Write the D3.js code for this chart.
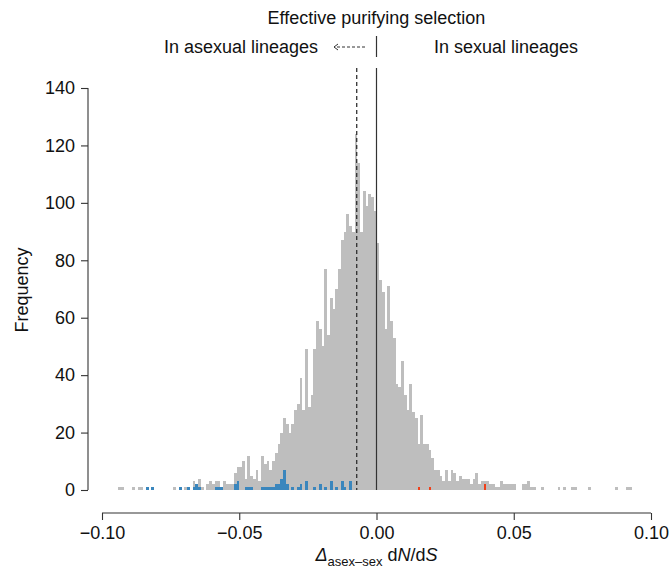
<!DOCTYPE html>
<html>
<head>
<meta charset="utf-8">
<script src="https://cdn.jsdelivr.net/npm/d3@7"></script>
<style>
    body { margin: 0; background: #fff; }
    svg { display: block; font-family: "Liberation Sans", Arial, sans-serif; }
</style>
</head>
<body>
<div id="chart"></div>
<script>
// histogram: bins of width 0.001 starting at -0.100
const binStart = -0.1;
const binWidth = 0.001;

// all genes (grey), 10 bins per row
const allCounts = [
    0, 0, 0, 0, 0, 0, 1, 1, 0, 0,          // -0.100
    0, 1, 0, 1, 1, 0, 1, 0, 1, 0,          // -0.090
    0, 0, 0, 0, 0, 0, 1, 0, 1, 0,          // -0.080
    1, 1, 0, 3, 2, 4, 1, 0, 2, 3,          // -0.070
    2, 3, 3, 1, 3, 2, 2, 2, 6, 8,          // -0.060
    8, 10, 4, 12, 5, 4, 7, 3, 12, 9,       // -0.050
    10, 7, 10, 13, 16, 20, 25, 23, 20, 23, // -0.040
    28, 30, 39, 28, 49, 29, 33, 49, 59, 56, // -0.030
    50, 77, 54, 67, 63, 70, 77, 87, 90, 96, // -0.020
    92, 90, 124, 114, 90, 104, 99, 103, 102, 97, // -0.010
    86, 73, 69, 56, 71, 59, 53, 37, 36, 45, // 0.000
    33, 28, 37, 27, 25, 16, 26, 16, 16, 14, // 0.010
    11, 7, 7, 5, 3, 7, 3, 7, 6, 3,         // 0.020
    5, 4, 4, 4, 2, 4, 6, 2, 3, 3,          // 0.030
    3, 2, 2, 1, 1, 3, 2, 2, 2, 2,          // 0.040
    2, 0, 0, 2, 2, 3, 1, 1, 0, 0,          // 0.050
    1, 0, 0, 0, 0, 0, 1, 0, 1, 0,          // 0.060
    0, 1, 1, 0, 0, 0, 0, 1, 0, 0,          // 0.070
    0, 0, 0, 0, 0, 0, 0, 1, 0, 0,          // 0.080
    0, 1, 1, 0, 0, 0, 0, 0, 0, 0           // 0.090
];

// highlighted genes, given by bin left edge
const blueBins = [-0.084, -0.082, -0.072, -0.069, -0.067, -0.066, -0.065, -0.059, -0.058, -0.057,
    -0.052, -0.051, -0.048, -0.047, -0.046, -0.042, -0.041, -0.040, -0.039, -0.038,
    -0.037, -0.036, -0.035, -0.034, -0.033, -0.031, -0.029, -0.028, -0.026, -0.023,
    -0.021, -0.019, -0.017, -0.015, -0.013, -0.012, -0.010];
const blueCounts = [1, 1, 1, 1, 1, 2, 1, 1, 1, 1,
    2, 3, 1, 1, 1, 1, 1, 1, 1, 1,
    2, 2, 4, 7, 2, 1, 1, 2, 3, 1,
    2, 1, 3, 1, 3, 1, 3];

const redBins = [0.015, 0.019, 0.039];
const redCounts = [1, 1, 2];

const xTicks = [-0.10, -0.05, 0.00, 0.05, 0.10];
const yTicks = [0, 20, 40, 60, 80, 100, 120, 140];

const meanShift = -0.0072;   // dashed line
const lineTop = 147;         // top of the reference lines, in counts

const width = 672, height = 570;
const svg = d3.select('#chart').append('svg')
    .attr('width', width)
    .attr('height', height);

const x = d3.scaleLinear().domain([-0.1, 0.1]).range([102, 651]);
const y = d3.scaleLinear().domain([0, 140]).range([490, 88]);

function toBins(lefts, counts) {
    return lefts.map((l, i) => ({ x0: l, x1: l + binWidth, n: counts[i] })).filter(d => d.n > 0);
}

const grey = toBins(allCounts.map((c, i) => binStart + i * binWidth), allCounts);
const blue = toBins(blueBins, blueCounts);
const red = toBins(redBins, redCounts);

function drawBars(data, color) {
    svg.append('g')
        .attr('shape-rendering', 'crispEdges')
        .selectAll('rect')
        .data(data)
        .enter()
        .append('rect')
        .attr('x', d => x(d.x0))
        .attr('width', d => x(d.x1) - x(d.x0))
        .attr('y', d => y(d.n))
        .attr('height', d => y(0) - y(d.n))
        .attr('fill', color);
}

drawBars(grey, '#bebebe');
drawBars(blue, '#3a86bd');
drawBars(red, '#f0401a');

// reference lines
svg.append('line')
    .attr('x1', x(meanShift)).attr('x2', x(meanShift))
    .attr('y1', y(lineTop)).attr('y2', y(0))
    .attr('stroke', '#222').attr('stroke-width', 1.2)
    .attr('stroke-dasharray', '4,3');

svg.append('line')
    .attr('x1', x(0)).attr('x2', x(0))
    .attr('y1', y(lineTop)).attr('y2', y(0))
    .attr('stroke', '#333').attr('stroke-width', 1.2);

// axes
const xAxis = svg.append('g')
    .attr('transform', 'translate(0,513)')
    .call(d3.axisBottom(x).tickValues(xTicks).tickSize(7).tickPadding(6)
        .tickFormat(d => d3.format('.2f')(d).replace('-', '\u2212')));

const yAxis = svg.append('g')
    .attr('transform', 'translate(88,0)')
    .call(d3.axisLeft(y).tickValues(yTicks).tickSize(7).tickPadding(6));

[xAxis, yAxis].forEach(ax => {
    ax.select('.domain').attr('stroke', '#333').attr('stroke-width', 1.1);
    ax.selectAll('.tick line').attr('stroke', '#333').attr('stroke-width', 1.1);
    ax.selectAll('.tick text')
        .attr('fill', '#111')
        .style('font-size', '18px')
        .style('font-family', '"Liberation Sans", Arial, sans-serif');
});
// R draws the axis line only between the outer ticks
xAxis.select('.domain').attr('d', `M${x(-0.1)},0H${x(0.1)}`);
yAxis.select('.domain').attr('d', `M0,${y(0)}V${y(140)}`);

// axis titles
svg.append('text')
    .attr('transform', 'translate(28,290) rotate(-90)')
    .attr('text-anchor', 'middle')
    .style('font-size', '18px')
    .attr('fill', '#111')
    .text('Frequency');

const xl = svg.append('text')
    .attr('x', x(0))
    .attr('y', 561)
    .attr('text-anchor', 'middle')
    .style('font-size', '18px')
    .attr('fill', '#111');
xl.append('tspan').style('font-style', 'italic').text('\u0394');
xl.append('tspan').attr('dy', 5).style('font-size', '13px').text('asex\u2013sex');
xl.append('tspan').attr('dy', -5).text(' d');
xl.append('tspan').style('font-style', 'italic').text('N');
xl.append('tspan').text('/d');
xl.append('tspan').style('font-style', 'italic').text('S');

// header annotation
svg.append('text')
    .attr('x', x(0))
    .attr('y', 24)
    .attr('text-anchor', 'middle')
    .style('font-size', '18px')
    .attr('fill', '#111')
    .text('Effective purifying selection');

svg.append('text')
    .attr('x', 318)
    .attr('y', 53)
    .attr('text-anchor', 'end')
    .style('font-size', '18px')
    .attr('fill', '#111')
    .text('In asexual lineages');

svg.append('text')
    .attr('x', 434)
    .attr('y', 53)
    .style('font-size', '18px')
    .attr('fill', '#111')
    .text('In sexual lineages');

svg.append('line')
    .attr('x1', x(0)).attr('x2', x(0))
    .attr('y1', 36).attr('y2', 57)
    .attr('stroke', '#333').attr('stroke-width', 1.2);

svg.append('line')
    .attr('x1', 365).attr('x2', 334)
    .attr('y1', 47).attr('y2', 47)
    .attr('stroke', '#333').attr('stroke-width', 1)
    .attr('stroke-dasharray', '3,2');
svg.append('path')
    .attr('d', 'M338,44L334,47L338,50')
    .attr('fill', 'none')
    .attr('stroke', '#333').attr('stroke-width', 1);
</script>
</body>
</html>
